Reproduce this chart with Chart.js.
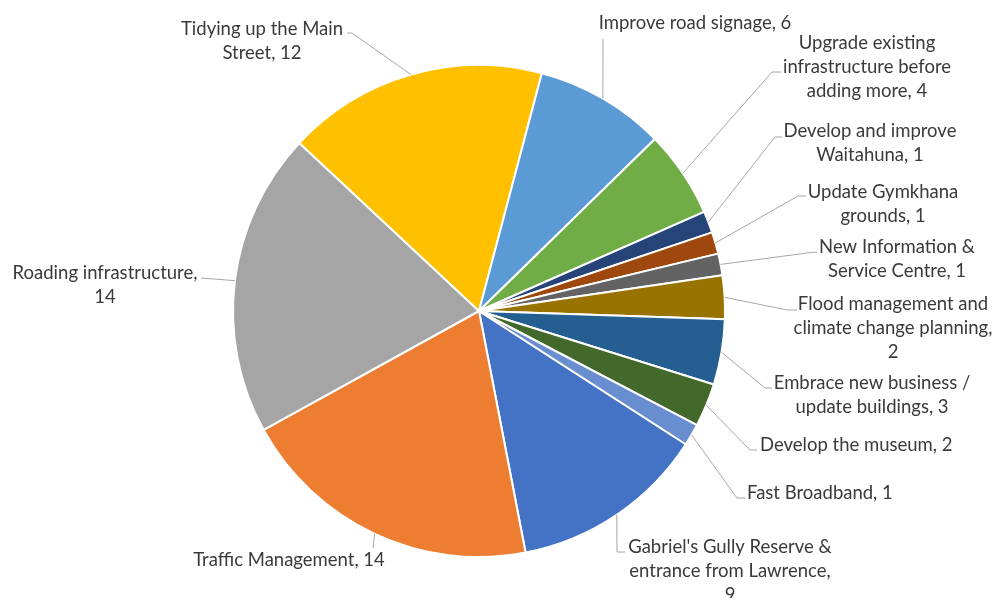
<!DOCTYPE html>
<html>
<head>
<meta charset="utf-8">
<script src="https://cdn.jsdelivr.net/npm/chart.js@4"></script>
<style>
  html, body { margin: 0; padding: 0; background: #fff; }
  #wrap { width: 997px; height: 598px; }
</style>
</head>
<body>
<div id="wrap"><canvas id="pie" width="997" height="598"></canvas></div>
<script>
  const categories = [
    "Gabriel's Gully Reserve & entrance from Lawrence",
    'Traffic Management',
    'Roading infrastructure',
    'Tidying up the Main Street',
    'Improve road signage',
    'Upgrade existing infrastructure before adding more',
    'Develop and improve Waitahuna',
    'Update Gymkhana grounds',
    'New Information & Service Centre',
    'Flood management and climate change planning',
    'Embrace new business / update buildings',
    'Develop the museum',
    'Fast Broadband',
  ];
  const counts = [9, 14, 14, 12, 6, 4, 1, 1, 1, 2, 3, 2, 1];

  // words on each line of the wrapped label ("name, value")
  const wordsPerLine = [
    [4, 3, 1], [3], [2, 1], [4, 2], [4], [2, 2, 3], [3, 2], [2, 2], [3, 3], [3, 3, 1], [4, 3], [4], [3],
  ];

  const sliceColors = [
    '#4472C4', '#ED7D31', '#A5A5A5', '#FFC000', '#5B9BD5', '#70AD47',
    '#264478', '#9E480E', '#636363', '#997300', '#255E91', '#43682B', '#698ED0',
  ];

  // where each label sits and the bends of its leader line (label side first)
  const labelLayout = [
    { x: 730, y: 547, align: 'center', lead: [[625, 552], [617, 552]] },
    { x: 289, y: 560, align: 'center', lead: [[373, 548]] },
    { x: 105, y: 273, align: 'center', lead: [[201, 278]] },
    { x: 262, y: 29, align: 'center', lead: [[347, 33], [352, 33]] },
    { x: 695, y: 23, align: 'center', lead: [[603, 39]] },
    { x: 867, y: 43, align: 'center', lead: [[781, 72], [772, 72]] },
    { x: 870, y: 131, align: 'center', lead: [[782, 137], [775, 137]] },
    { x: 883, y: 192, align: 'center', lead: [[806, 196], [798, 196]] },
    { x: 897, y: 247, align: 'center', lead: [[817, 252], [807, 253]] },
    { x: 893, y: 304, align: 'center', lead: [[797, 310], [787, 310]] },
    { x: 872, y: 383, align: 'center', lead: [[772, 388], [765, 388]] },
    { x: 760, y: 445, align: 'left', lead: [[757, 450], [750, 450]] },
    { x: 747, y: 493, align: 'left', lead: [[745, 498], [737, 498]] },
  ];

  const textColor = '#3a3a3a';
  const leaderColor = '#A6A6A6';
  const labelFont = "18.5px 'Lato', 'Noto Sans', sans-serif";
  const lineHeight = 24;

  function splitLines(text, counts) {
    const words = text.split(' ');
    const lines = [];
    let i = 0;
    counts.forEach((n) => {
      lines.push(words.slice(i, i + n).join(' '));
      i += n;
    });
    return lines;
  }

  const outsideLabels = {
    id: 'outsideLabels',
    afterDatasetsDraw(chart) {
      const { ctx } = chart;
      const arcs = chart.getDatasetMeta(0).data;
      ctx.save();
      arcs.forEach((arc, i) => {
        const p = arc.getProps(['x', 'y', 'startAngle', 'endAngle', 'outerRadius'], true);
        const mid = (p.startAngle + p.endAngle) / 2;
        const ex = p.x + Math.cos(mid) * p.outerRadius;
        const ey = p.y + Math.sin(mid) * p.outerRadius;
        const lay = labelLayout[i];

        // leader line
        ctx.strokeStyle = leaderColor;
        ctx.lineWidth = 1;
        ctx.beginPath();
        lay.lead.forEach((pt, k) => {
          if (k === 0) ctx.moveTo(pt[0], pt[1]);
          else ctx.lineTo(pt[0], pt[1]);
        });
        ctx.lineTo(ex, ey);
        ctx.stroke();

        // label text
        const lines = splitLines(`${categories[i]}, ${counts[i]}`, wordsPerLine[i]);
        ctx.font = labelFont;
        ctx.fillStyle = textColor;
        ctx.textAlign = lay.align;
        ctx.textBaseline = 'middle';
        lines.forEach((line, k) => {
          ctx.fillText(line, lay.x, lay.y + k * lineHeight);
        });
      });
      ctx.restore();
    },
  };

  const config = {
    type: 'pie',
    data: {
      labels: categories,
      datasets: [
        {
          data: counts,
          backgroundColor: sliceColors,
          borderColor: '#ffffff',
          borderWidth: 2,
        },
      ],
    },
    options: {
      responsive: false,
      animation: false,
      rotation: 122.8,
      layout: {
        padding: { top: 64, bottom: 40, left: 232, right: 271 },
      },
      plugins: {
        legend: { display: false },
        tooltip: { enabled: false },
      },
    },
    plugins: [outsideLabels],
  };

  const myChart = new Chart(document.getElementById('pie'), config);
</script>
</body>
</html>
